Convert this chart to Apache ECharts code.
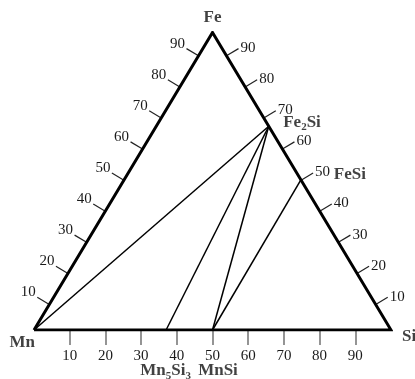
<!DOCTYPE html>
<html><head><meta charset="utf-8">
<script src="https://cdn.jsdelivr.net/npm/echarts@6/dist/echarts.min.js"></script>
<style>html,body{margin:0;padding:0;background:#fff}#c{width:415px;height:379px}</style>
</head><body><div id="c"></div>
<script>
// Ternary Mn–Fe–Si diagram (at.%). Each point given as Si and Fe content; Mn = 100 - Si - Fe.
const vertexNames = ['Mn', 'Si', 'Fe'];
const vertexSi = [0, 100, 0];
const vertexFe = [0, 0, 100];
const compoundNames = ['Fe2Si', 'FeSi', 'Mn5Si3', 'MnSi'];
const compoundSi = [31.5, 49.5, 37, 50];
const compoundFe = [68.5, 50.5, 0, 0];
const tieLines = [['Mn', 'Fe2Si'], ['Fe2Si', 'Mn5Si3'], ['Fe2Si', 'MnSi'], ['FeSi', 'MnSi']];
const bottomTicks = [10, 20, 30, 40, 50, 60, 70, 80, 90];
const leftTicks = [10, 20, 30, 40, 50, 60, 70, 80, 90];
const rightTicks = [10, 20, 30, 40, 50, 60, 70, 80, 90];
// value range spanned by the side (Fe) tick scales along each sloping edge, as drawn in the source
const sideScaleMin = 1.8;
const sideScaleMax = 97.5;

const SERIF = '"Liberation Serif","Times New Roman",serif';
// ternary -> cartesian (x along Mn→Si, y = Fe fraction of height)
function toXY(si, fe) { return [si + fe / 2, fe]; }
const pts = {};
vertexNames.forEach((n, i) => pts[n] = toXY(vertexSi[i], vertexFe[i]));
compoundNames.forEach((n, i) => pts[n] = toXY(compoundSi[i], compoundFe[i]));

const labelStyle = {
  Mn:    { offset: [1, 13],  align: 'right' },
  Si:    { offset: [11, 7],  align: 'left' },
  Fe:    { offset: [0, -15], align: 'center' },
  Fe2Si: { offset: [14.5, -4], align: 'left' },
  FeSi:  { offset: [33, -5.5], align: 'left' },
  Mn5Si3:{ offset: [-0.5, 41], align: 'center' },
  MnSi:  { offset: [5.5, 41], align: 'center' }
};
const richText = {
  Fe2Si: '{b|Fe}{s|2}{b|Si}',
  Mn5Si3: '{b|Mn}{s|5}{b|Si}{s|3}'
};
const labelData = vertexNames.concat(compoundNames).map(n => ({
  value: pts[n],
  label: {
    show: true, position: 'inside',
    offset: labelStyle[n].offset, align: labelStyle[n].align, verticalAlign: 'middle',
    formatter: richText[n] || ('{b|' + n + '}'),
    rich: {
      b: { fontFamily: SERIF, fontSize: 17, fontWeight: 'bold', color: '#111' },
      s: { fontFamily: SERIF, fontSize: 11, fontWeight: 'bold', color: '#111', padding: [10, 0, 0, 0] }
    }
  }
}));

const sideTickData = leftTicks.map(v => [0, v]).concat(rightTicks.map(v => [1, v]));

const chart = echarts.init(document.getElementById('c'), null, { renderer: 'canvas' });
chart.setOption({
  animation: false,
  backgroundColor: '#fff',
  grid: { left: 34, right: 24, top: 32.5, bottom: 49 },
  xAxis: {
    type: 'value', min: 0, max: 100, interval: 10,
    axisLine: { show: false },
    splitLine: { show: false },
    axisTick: { show: true, customValues: bottomTicks, length: 15, lineStyle: { color: '#7a7a7a', width: 1.6 } },
    axisLabel: { customValues: bottomTicks, margin: 19, fontFamily: SERIF, fontSize: 15, color: '#1a1a1a' }
  },
  yAxis: {
    type: 'value', min: 0, max: 100, show: false
  },
  series: [
    {
      type: 'line', symbol: 'none', silent: true,
      data: [pts.Mn, pts.Si, pts.Fe, pts.Mn],
      lineStyle: { color: '#000', width: 3, join: 'miter' }, z: 5
    },
    {
      type: 'lines', coordinateSystem: 'cartesian2d', silent: true,
      data: tieLines.map(([a, b]) => ({ coords: [pts[a], pts[b]] })),
      lineStyle: { color: '#000', width: 1.5, opacity: 1 }, z: 4
    },
    {
      type: 'custom', clip: false, silent: true,
      data: sideTickData,
      renderItem(params, api) {
        const side = api.value(0), v = api.value(1);
        const f = (v - sideScaleMin) / (sideScaleMax - sideScaleMin);
        const p = side === 0 ? api.coord([f * 50, f * 100]) : api.coord([100 - f * 50, f * 100]);
        const a = side === 0 ? api.coord([0, 0]) : api.coord([100, 0]);
        const b = api.coord([50, 100]);
        let dx = b[0] - a[0], dy = b[1] - a[1];
        const L = Math.hypot(dx, dy); dx /= L; dy /= L;
        const n = side === 0 ? [dy, -dx] : [-dy, dx];
        const len = 14;
        const e = [p[0] + n[0] * len, p[1] + n[1] * len];
        return {
          type: 'group', children: [
            { type: 'line', shape: { x1: p[0], y1: p[1], x2: e[0], y2: e[1] }, style: { stroke: '#222', lineWidth: 1.2 } },
            { type: 'text', x: side === 0 ? e[0] - 1.5 : e[0] + 2, y: side === 0 ? e[1] - 5 : e[1] - 0.5,
              style: { text: String(v), align: side === 0 ? 'right' : 'left', verticalAlign: 'middle',
                       fontFamily: SERIF, fontSize: 15, fill: '#1a1a1a' } }
          ]
        };
      }
    },
    {
      type: 'scatter', symbolSize: 0, silent: true, data: labelData, z: 10
    }
  ]
});
</script>
</body></html>
